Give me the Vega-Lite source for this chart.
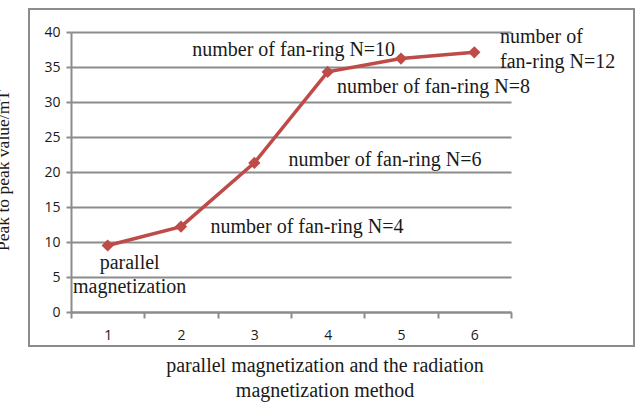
{
  "$schema": "https://vega.github.io/schema/vega-lite/v6.json",
  "width": 605,
  "height": 337,
  "autosize": {"type": "none"},
  "padding": {"left": 29, "top": 9, "right": 3, "bottom": 60},
  "background": "white",
  "config": {
    "view": {"stroke": "#8c8c8c", "strokeWidth": 2},
    "axis": {
      "domainColor": "#8c8c8c",
      "domainWidth": 2,
      "tickColor": "#8c8c8c",
      "tickWidth": 2,
      "gridColor": "#8c8c8c",
      "gridWidth": 2,
      "gridOpacity": 1,
      "labelFont": "Open Sans",
      "labelFontSize": 14,
      "labelColor": "#1a1a1a",
      "titleFont": "Liberation Serif",
      "titleFontWeight": "normal",
      "titleColor": "#1a1a1a"
    },
    "text": {"font": "Liberation Serif", "fontSize": 20, "color": "#1a1a1a"}
  },
  "data": {
    "values": [
      {"x": 1, "value": 9.5, "label": "parallel\nmagnetization"},
      {"x": 2, "value": 12.2, "label": "number of fan-ring N=4"},
      {"x": 3, "value": 21.3, "label": "number of fan-ring N=6"},
      {"x": 4, "value": 34.3, "label": "number of fan-ring N=10"},
      {"x": 5, "value": 36.2, "label": "number of fan-ring N=8"},
      {"x": 6, "value": 37.1, "label": "number of\nfan-ring N=12"}
    ]
  },
  "encoding": {
    "x": {
      "field": "x",
      "type": "ordinal",
      "scale": {"type": "band", "range": [42, 482], "paddingInner": 0, "paddingOuter": 0},
      "axis": {
        "title": ["parallel magnetization and the radiation", "magnetization method"],
        "titleFontSize": 20,
        "titleLineHeight": 25,
        "titleBaseline": "alphabetic",
        "titleAlign": "center",
        "titleAnchor": null,
        "titleX": 295.5,
        "titleY": 59,
        "labelAngle": 0,
        "offset": -34,
        "tickBand": "extent",
        "tickSize": 6,
        "labelPadding": 10,
        "grid": false
      }
    },
    "y": {
      "field": "value",
      "type": "quantitative",
      "scale": {"domain": [0, 40], "range": [303, 23], "nice": false},
      "axis": {
        "title": "Peak to peak value/mT",
        "titleFontSize": 17.5,
        "titleAngle": 270,
        "titleBaseline": "alphabetic",
        "titleAlign": "center",
        "titleAnchor": null,
        "titleX": -62.5,
        "titleY": 161,
        "values": [0, 5, 10, 15, 20, 25, 30, 35, 40],
        "offset": -42,
        "tickSize": 5,
        "labelPadding": 6,
        "grid": true
      }
    }
  },
  "layer": [
    {
      "mark": {
        "type": "line",
        "color": "#bf4b48",
        "strokeWidth": 3.5,
        "point": {"shape": "diamond", "size": 150, "filled": true, "color": "#bf4b48", "opacity": 1}
      }
    },
    {
      "transform": [{"filter": "datum.x == 1"}],
      "mark": {"type": "text", "align": "center", "baseline": "middle", "lineBreak": "\n", "lineHeight": 24, "dx": 22, "dy": 17.5},
      "encoding": {"text": {"field": "label"}}
    },
    {
      "transform": [{"filter": "datum.x == 2"}],
      "mark": {"type": "text", "align": "center", "baseline": "middle", "dx": 126, "dy": 0},
      "encoding": {"text": {"field": "label"}}
    },
    {
      "transform": [{"filter": "datum.x == 3"}],
      "mark": {"type": "text", "align": "center", "baseline": "middle", "dx": 130.7, "dy": -3},
      "encoding": {"text": {"field": "label"}}
    },
    {
      "transform": [{"filter": "datum.x == 4"}],
      "mark": {"type": "text", "align": "center", "baseline": "middle", "dx": -34, "dy": -22},
      "encoding": {"text": {"field": "label"}}
    },
    {
      "transform": [{"filter": "datum.x == 5"}],
      "mark": {"type": "text", "align": "center", "baseline": "middle", "dx": 32.5, "dy": 28.5},
      "encoding": {"text": {"field": "label"}}
    },
    {
      "transform": [{"filter": "datum.x == 6"}],
      "mark": {"type": "text", "align": "left", "baseline": "middle", "lineBreak": "\n", "lineHeight": 25, "dx": 25.7, "dy": -15.3},
      "encoding": {"text": {"field": "label"}}
    }
  ]
}
